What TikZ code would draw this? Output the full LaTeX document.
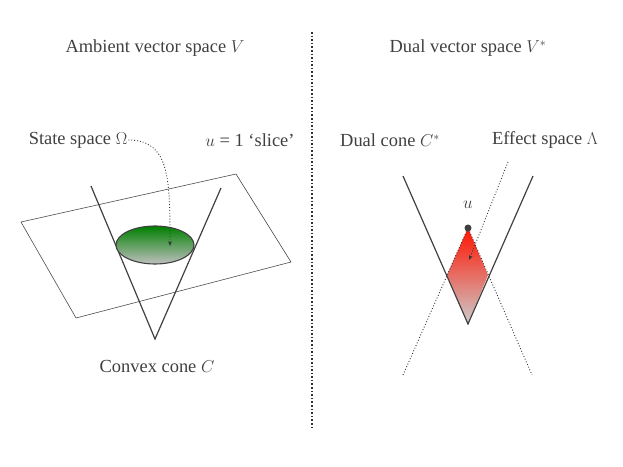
\documentclass[tikz,border=0pt]{standalone}
\usepackage{fontspec}
\setmainfont{Liberation Serif}
\usetikzlibrary{arrows.meta}
\begin{document}
\begin{tikzpicture}[x=1bp,y=-1bp,
  lbl/.style={text=black!75,font=\fontsize{18.5}{21}\selectfont,inner sep=1pt},
  cone/.style={draw=black!75,line width=1.2pt},
  dots/.style={draw=black!80,dotted,line width=0.9pt}]
\useasboundingbox (0,0) rectangle (623,467);
\draw[black!70,line width=0.6pt] (21,222) -- (236,174) -- (291,262) -- (76,318) -- cycle;
\draw[cone] (91,186) -- (155,339) -- (221,188);
\shade[top color=green!50!black,bottom color=black!25] (155,245) ellipse [x radius=39,y radius=19];
\draw[black!75,line width=1.1pt] (155,245) ellipse [x radius=39,y radius=19];
\node[lbl] (amb) at (155,48) {Ambient vector space $V$};
\node[lbl] (dual) at (468,48) {Dual vector space $V^*$};
\node[lbl] (state) at (78,140) {State space $\Omega$};
\node[lbl] (slice) at (250,140) {$u$ = 1 ‘slice’};
\node[lbl] (dcone) at (390,140) {Dual cone $C^*$};
\node[lbl] (eff) at (545,140) {Effect space $\Lambda$};
\node[lbl] (cc) at (157,366) {Convex cone $C$};
\coordinate (om) at (170,246);
\draw[dots,-{Stealth[length=5pt]}] (state.east) .. controls (170,140) and (170,180) .. (om);
\draw[dots,line width=1.6pt] (312,32) -- (312,430);
% right
\coordinate (u) at (468,228);
\coordinate (L) at (447,275);
\coordinate (R) at (488,275);
\coordinate (A) at (468,324);
\shade[top color=red!85!orange,bottom color=black!20] (u) -- (L) -- (A) -- (R) -- cycle;
\draw[cone] (403,176) -- (A) -- (533,176);
\draw[dots] (403,375) -- (u) -- (532,375);
\fill[black!75] (u) circle (3.5);
\node[lbl] (ul) at (468,205) {$u$};
\coordinate (eh) at (469,260);
\draw[dots,-{Stealth[length=5pt]}] (508,162) -- (eh);
\end{tikzpicture}
\end{document}
